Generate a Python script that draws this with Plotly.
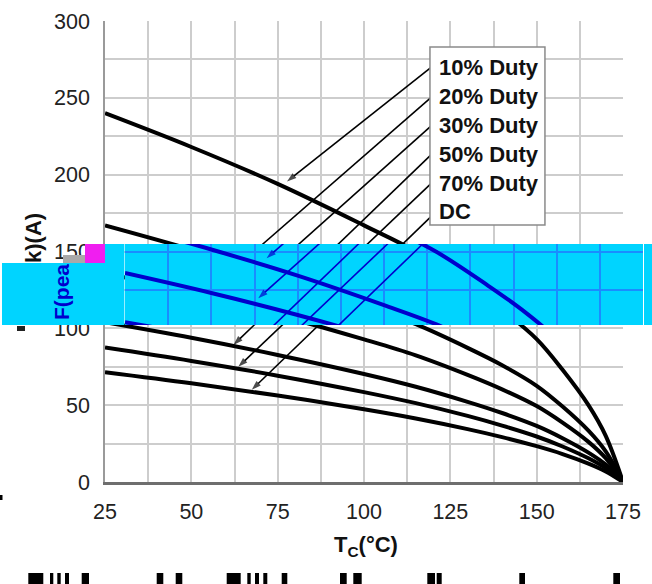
import plotly.graph_objects as go

# ---------------- data ----------------
tc = [25, 50, 75, 100, 115, 130, 140, 150, 157.5, 165, 170, 175]
duty10 = [240, 218, 194, 167, 150, 128, 112, 93, 73, 50, 30, 0]
duty20 = [167, 151.3, 134.3, 115.1, 102.7, 87.3, 76.0, 62.6, 49.1, 33.4, 19.9, 0]
duty30 = [136, 123.0, 108.7, 92.8, 82.4, 69.7, 60.3, 49.4, 38.6, 26.1, 15.5, 0]
duty50 = [104, 93.9, 82.7, 70.3, 62.0, 52.2, 44.9, 36.5, 28.5, 19.1, 11.3, 0]
duty70 = [87.5, 78.8, 69.2, 58.5, 51.3, 43.0, 36.7, 29.6, 23.1, 15.4, 9.0, 0]
dc = [71.5, 64.3, 56.3, 47.3, 41.3, 34.4, 29.2, 23.3, 18.2, 12.0, 6.9, 0]
series = [duty10, duty20, duty30, duty50, duty70, dc]
labels = ["10% Duty", "20% Duty", "30% Duty", "50% Duty", "70% Duty", "DC"]

leader_start_x = [119.7, 119.7, 119.7, 119.7, 119.7, 119.7]
leader_start_y = [270.3, 250.8, 232.3, 213.5, 194.8, 173.3]
arrow_tip_x = [77.7, 66.0, 63.6, 62.2, 63.6, 67.5]
arrow_tip_y = [195.5, 145.6, 119.6, 89.2, 75.0, 60.0]

x_ticks = [25, 50, 75, 100, 125, 150, 175]
y_ticks = [0, 50, 100, 150, 200, 250, 300]
x_range = [25, 175]
y_range = [0, 300]

# ---------------- geometry (pixels) ----------------
W, H = 652, 584
ML, MR, MT, MB = 105, 9, 21, 102
PW = W - ML - MR
PH = H - MT - MB
P1_W = 518           # width of the main plot area
SHIFT = 20           # horizontal offset of the glitch band
BAND_TOP, BAND_BOT = 244, 325


def px(xp):
    return (xp - ML) / PW


def py(yp):
    return (H - MB - yp) / PH


def yval(yp):
    return (H - MB - yp) / PH * (y_range[1] - y_range[0]) + y_range[0]


FONT = "Liberation Sans, Arial, sans-serif"
CYAN = "#00d4ff"
BLUE = "#0000cd"
BLUE_GRID = "#1a8cff"
GRID = "#cdcdcd"

fig = go.Figure()


def add_content(xa, ya, curve_col, thin_col):
    for vals in series:
        fig.add_trace(go.Scatter(x=tc, y=vals, mode="lines", xaxis=xa, yaxis=ya,
                                 line=dict(color=curve_col, width=4, shape="spline", smoothing=1),
                                 hoverinfo="skip", showlegend=False))
    for i in range(len(labels)):
        fig.add_trace(go.Scatter(x=[leader_start_x[i], arrow_tip_x[i]],
                                 y=[leader_start_y[i], arrow_tip_y[i]],
                                 mode="lines+markers", xaxis=xa, yaxis=ya,
                                 line=dict(color=thin_col, width=1.6),
                                 marker=dict(symbol=["circle", "arrow"], size=[0, 10],
                                             angleref="previous", color=thin_col,
                                             line=dict(width=0)),
                                 hoverinfo="skip", showlegend=False))


add_content("x", "y", "black", "black")
add_content("x2", "y2", BLUE, BLUE)

shapes = []
# cyan background of the band inside subplot 2 (drawn above subplot 1)
shapes.append(dict(type="rect", xref="x2", yref="y2", layer="below",
                   x0=x_range[0], x1=x_range[1], y0=yval(BAND_BOT), y1=yval(BAND_TOP),
                   fillcolor=CYAN, line=dict(width=0)))
# band parts outside the plot area
shapes.append(dict(type="rect", xref="paper", yref="paper", layer="above",
                   x0=px(2), x1=px(124.4), y0=py(BAND_BOT), y1=py(263),
                   fillcolor=CYAN, line=dict(width=0)))
shapes.append(dict(type="rect", xref="paper", yref="paper", layer="above",
                   x0=px(105), x1=px(124.4), y0=py(263), y1=py(BAND_TOP),
                   fillcolor=CYAN, line=dict(width=0)))
shapes.append(dict(type="rect", xref="paper", yref="paper", layer="above",
                   x0=px(644), x1=px(652), y0=py(BAND_BOT), y1=py(BAND_TOP),
                   fillcolor=CYAN, line=dict(width=0)))
shapes.append(dict(type="rect", xref="paper", yref="paper", layer="above",
                   x0=px(85), x1=px(105), y0=py(263), y1=py(BAND_TOP),
                   fillcolor="#f01ef0", line=dict(width=0)))
shapes.append(dict(type="rect", xref="paper", yref="paper", layer="above",
                   x0=px(63), x1=px(85), y0=py(263), y1=py(255),
                   fillcolor="#a9a9a9", line=dict(width=0)))
# legend box
shapes.append(dict(type="rect", xref="x", yref="y", layer="above",
                   x0=119.1, x1=152.4, y0=167.3, y1=283.1,
                   fillcolor="white", line=dict(color="#8a8a8a", width=1.5)))
# cut-off caption fragments at the bottom edge
frag = [(28.3, 43.3), (50, 53.3), (57.3, 60.7), (65, 69), (81.7, 89), (156.7, 163.3),
        (175.7, 182.3), (226.7, 240.7), (247.3, 250.7), (255, 259), (263.3, 267.3),
        (281.7, 287.3), (340, 346.7), (353.3, 361.7), (427.3, 435), (436.7, 441.7),
        (519.3, 525), (613.3, 620)]
for a, b in frag:
    shapes.append(dict(type="rect", xref="paper", yref="paper", layer="above",
                       x0=px(a), x1=px(b), y0=py(586), y1=py(573),
                       fillcolor="black", line=dict(width=0)))
shapes.append(dict(type="rect", xref="paper", yref="paper", layer="above",
                   x0=px(0), x1=px(2.5), y0=py(500), y1=py(495),
                   fillcolor="black", line=dict(width=0)))
# cut piece of the axis title just below the band
shapes.append(dict(type="rect", xref="paper", yref="paper", layer="above",
                   x0=px(17), x1=px(25), y0=py(331), y1=py(326),
                   fillcolor="#222", line=dict(width=0)))

annotations = []
leg_y_px = [68, 97, 125, 154, 183, 212]
for lab, yp in zip(labels, leg_y_px):
    annotations.append(dict(text="<b>%s</b>" % lab, xref="paper", yref="paper",
                            x=px(437), y=py(yp), xanchor="left", yanchor="middle",
                            showarrow=False, font=dict(family=FONT, size=22, color="#111")))
annotations.append(dict(text="<b>T<sub>C</sub>(°C)</b>", xref="paper", yref="paper",
                        x=px(366), y=py(546), xanchor="center", yanchor="middle",
                        showarrow=False, font=dict(family=FONT, size=22, color="#111")))
annotations.append(dict(text="<b>k)(A)</b>", xref="paper", yref="paper",
                        x=px(34), y=py(238), xanchor="center", yanchor="middle", textangle=-90,
                        showarrow=False, font=dict(family=FONT, size=22, color="#111")))
annotations.append(dict(text="<b>F(pea</b>", xref="paper", yref="paper",
                        x=px(61.5), y=py(292.5), xanchor="center", yanchor="middle", textangle=-90,
                        showarrow=False, font=dict(family=FONT, size=21, color=BLUE)))

fig.update_layout(
    template="none",
    width=W, height=H, autosize=False,
    margin=dict(l=ML, r=MR, t=MT, b=MB, pad=0, autoexpand=False),
    paper_bgcolor="white", plot_bgcolor="white",
    showlegend=False,
    shapes=shapes, annotations=annotations,
    xaxis=dict(domain=[0, P1_W / PW], range=x_range, tickvals=x_ticks, automargin=False,
               showgrid=True, gridcolor=GRID, gridwidth=1.5,
               minor=dict(dtick=12.5, tick0=25, showgrid=True, gridcolor=GRID, gridwidth=1.5, ticks=""),
               showline=True, linecolor="#6e6e6e", linewidth=2.5, zeroline=False,
               ticks="", ticklabelstandoff=8,
               tickfont=dict(family=FONT, size=21.5, color="#222")),
    yaxis=dict(domain=[0, 1], range=y_range, tickvals=y_ticks, automargin=False,
               showgrid=True, gridcolor=GRID, gridwidth=1.5,
               minor=dict(dtick=25, tick0=0, showgrid=True, gridcolor=GRID, gridwidth=1.5, ticks=""),
               showline=True, linecolor="#9a9a9a", linewidth=1.5, zeroline=False,
               ticks="", ticklabelstandoff=9,
               tickfont=dict(family=FONT, size=21.5, color="#222")),
    xaxis2=dict(domain=[SHIFT / PW, (SHIFT + P1_W) / PW], range=x_range, anchor="y2",
                automargin=False,
                dtick=12.5, tick0=25, showgrid=True, gridcolor=BLUE_GRID, gridwidth=1.5,
                showticklabels=False, ticks="", showline=False, zeroline=False),
    yaxis2=dict(domain=[py(BAND_BOT), py(BAND_TOP)], range=[yval(BAND_BOT), yval(BAND_TOP)],
                anchor="x2", automargin=False, dtick=25, tick0=0, showgrid=True,
                gridcolor=BLUE_GRID, gridwidth=1.5,
                showticklabels=False, ticks="", showline=False, zeroline=False),
)

fig.write_html("out.html", config={"displayModeBar": False, "responsive": False},
               post_script="document.body.style.margin='0px';document.body.style.overflow='hidden';")
